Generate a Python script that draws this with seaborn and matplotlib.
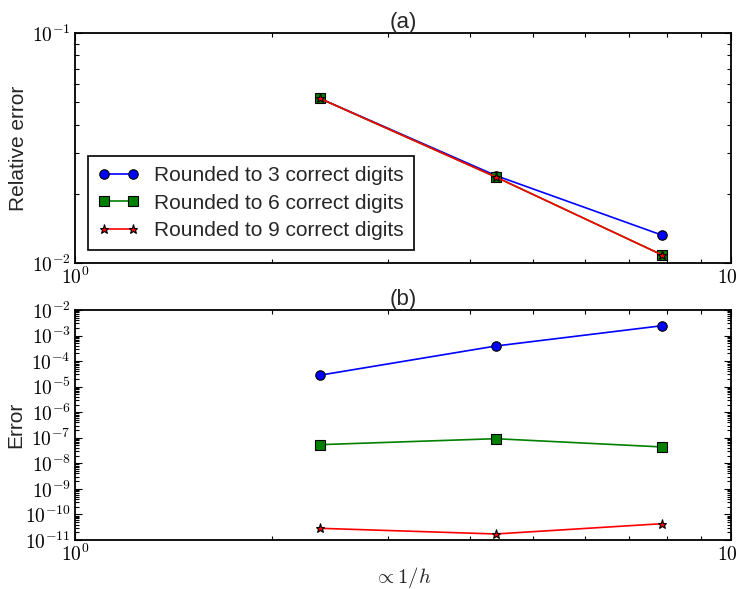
import numpy as np
import pandas as pd
import matplotlib
matplotlib.use("Agg")
import matplotlib.pyplot as plt
from matplotlib.ticker import FuncFormatter, LogLocator
import seaborn as sns

# Grid resolution (proportional to 1/h)
inv_h = [2.36, 4.38, 7.86]

# Series labels
labels = ["Rounded to 3 correct digits",
          "Rounded to 6 correct digits",
          "Rounded to 9 correct digits"]

# (a) relative error
rel_err_3 = [0.0520, 0.0240, 0.0132]
rel_err_6 = [0.0520, 0.02366, 0.01083]
rel_err_9 = [0.0520, 0.02366, 0.01083]

# (b) absolute error
err_3 = [2.79e-5, 3.89e-4, 2.43e-3]
err_6 = [5.37e-8, 9.2e-8, 4.37e-8]
err_9 = [2.87e-11, 1.72e-11, 4.35e-11]

colors = ["#0000ff", "#008000", "#ff0000"]
markers = ["o", "s", "*"]

sns.set_style("ticks")
plt.rcParams["font.family"] = ["Liberation Sans", "DejaVu Sans"]
plt.rcParams["mathtext.fontset"] = "cm"
plt.rcParams["xtick.direction"] = "in"
plt.rcParams["ytick.direction"] = "in"


def long_frame(series):
    rows = []
    for lab, vals in zip(labels, series):
        for x, y in zip(inv_h, vals):
            rows.append({"x": x, "y": y, "series": lab})
    return pd.DataFrame(rows)


df_a = long_frame([rel_err_3, rel_err_6, rel_err_9])
df_b = long_frame([err_3, err_6, err_9])

fig = plt.figure(figsize=(7.39, 5.89), dpi=100)
ax_a = fig.add_axes([0.1015, 0.5535, 0.8875, 0.3905])
ax_b = fig.add_axes([0.1015, 0.0832, 0.8875, 0.3905])

palette = dict(zip(labels, colors))
marker_map = dict(zip(labels, markers))

for ax, df in ((ax_a, df_a), (ax_b, df_b)):
    sns.lineplot(data=df, x="x", y="y", hue="series", style="series",
                 palette=palette, markers=marker_map, dashes=False,
                 markersize=6.8, markeredgecolor="k", markeredgewidth=0.8,
                 linewidth=1.2, ax=ax, legend=(ax is ax_a), sort=False,
                 errorbar=None)
    ax.set_xscale("log")
    ax.set_yscale("log")
    ax.set_xlim(1, 10)


def decade_fmt(v, pos):
    e = np.log10(v)
    if abs(e - round(e)) < 1e-6:
        return r"$10^{%d}$" % int(round(e))
    return ""


ax_a.set_ylim(1e-2, 1e-1)
ax_b.set_ylim(1e-11, 1e-2)
ax_b.yaxis.set_major_locator(LogLocator(base=10, numticks=20))
ax_b.yaxis.set_minor_locator(LogLocator(base=10, subs=np.arange(2, 10), numticks=20))

for ax in (ax_a, ax_b):
    ax.xaxis.set_major_formatter(FuncFormatter(decade_fmt))
    ax.yaxis.set_major_formatter(FuncFormatter(decade_fmt))
    ax.xaxis.set_minor_formatter(FuncFormatter(lambda v, p: ""))
    ax.yaxis.set_minor_formatter(FuncFormatter(lambda v, p: ""))
    ax.tick_params(which="both", top=True, right=True, direction="in",
                   labelsize=14, colors="k", pad=3)
    ax.tick_params(which="major", length=5, width=0.8)
    ax.tick_params(which="minor", length=3, width=0.8)
    for s in ax.spines.values():
        s.set_color("k")
        s.set_linewidth(1.3)

ax_a.set_title("(a)", fontsize=16, pad=3)
ax_b.set_title("(b)", fontsize=16, pad=3)
ax_a.set_ylabel("Relative error", fontsize=15, labelpad=3)
ax_b.set_ylabel("Error", fontsize=15, labelpad=0)
ax_a.set_xlabel("")
ax_b.set_xlabel(r"$\propto 1/h$", fontsize=15, labelpad=0)

leg = ax_a.legend(loc="lower left", fontsize=15, frameon=True, fancybox=False,
                  edgecolor="k", framealpha=1, numpoints=2, handlelength=2.0,
                  handletextpad=0.7, labelspacing=0.4, borderaxespad=0.6,
                  borderpad=0.5)
leg.get_frame().set_linewidth(1.2)
for h in leg.legend_handles:
    h.set_markeredgecolor("k")

fig.savefig("out.png", dpi=100, facecolor="white")
